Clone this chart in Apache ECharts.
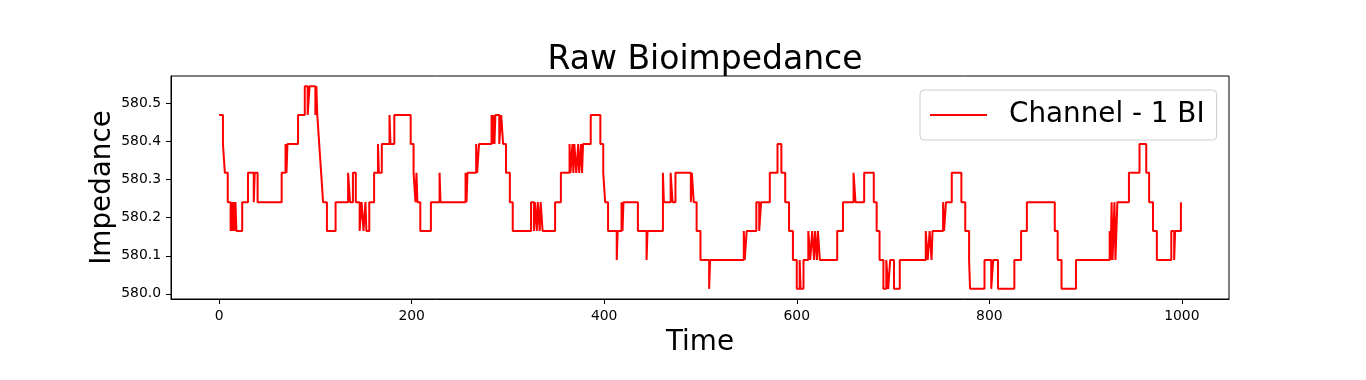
<!DOCTYPE html>
<html><head><meta charset="utf-8">
<script src="https://cdn.jsdelivr.net/npm/echarts@6/dist/echarts.min.js"></script>
<style>html,body{margin:0;padding:0;background:#fff}#c{width:1366px;height:380px}</style>
</head><body><div id="c"></div>
<script>
const chartTitle = 'Raw Bioimpedance';
const seriesName = 'Channel - 1 BI';
const xAxisName = 'Time';
const yAxisName = 'Impedance';
const xTicks = [0, 200, 400, 600, 800, 1000];
const yTicks = [580.0, 580.1, 580.2, 580.3, 580.4, 580.5];

// Change points of the (quantised) signal: value holds from times[i] until times[i+1]
const times = [
  0,4,6,9,12,13,14,15,16,17,18,24,30,36,37,40,65,69,70,71,
  82,89,92,94,100,101,102,104,106,108,112,121,134,136,139,142,146,148,150,152,
  153,156,161,165,166,169,177,178,182,199,202,204,205,206,209,220,229,230,256,257,
  258,267,268,270,283,284,285,286,287,291,293,295,298,302,305,324,327,328,330,331,
  333,334,336,349,355,364,365,367,368,369,371,373,374,376,377,378,386,396,399,401,
  404,413,414,418,419,420,435,444,445,461,462,469,471,474,490,491,493,496,500,509,
  510,545,546,548,558,561,563,572,580,584,588,592,596,600,603,604,607,612,614,616,
  618,619,621,622,624,642,648,659,661,670,680,683,686,690,693,695,697,701,707,734,
  736,738,740,741,752,753,755,761,771,775,779,780,795,802,804,809,826,833,839,868,
  871,875,890,925,926,927,928,930,931,933,945,956,963,966,970,974,989,992,993,999
];
const impedance = [
  580.470,580.394,580.318,580.241,580.165,580.241,580.165,580.241,580.165,580.241,580.165,580.241,580.318,580.241,580.318,580.241,580.318,580.394,580.318,580.394,
  580.470,580.546,580.470,580.546,580.470,580.546,580.470,580.394,580.318,580.241,580.165,580.241,580.318,580.241,580.318,580.241,580.165,580.241,580.165,580.241,
  580.165,580.241,580.318,580.394,580.318,580.394,580.470,580.394,580.470,580.394,580.318,580.241,580.318,580.241,580.165,580.241,580.318,580.241,580.318,580.241,
  580.318,580.394,580.318,580.394,580.470,580.394,580.470,580.394,580.470,580.394,580.470,580.394,580.318,580.241,580.165,580.241,580.165,580.241,580.165,580.241,
  580.165,580.241,580.165,580.241,580.318,580.394,580.318,580.394,580.318,580.394,580.318,580.394,580.318,580.394,580.318,580.394,580.470,580.394,580.318,580.241,
  580.165,580.089,580.165,580.241,580.165,580.241,580.165,580.089,580.165,580.318,580.241,580.318,580.241,580.318,580.241,580.318,580.241,580.165,580.089,580.013,
  580.089,580.165,580.089,580.165,580.241,580.165,580.241,580.318,580.394,580.318,580.241,580.165,580.089,580.013,580.089,580.013,580.089,580.165,580.089,580.165,
  580.089,580.165,580.089,580.165,580.089,580.165,580.241,580.318,580.241,580.318,580.241,580.165,580.089,580.013,580.089,580.013,580.089,580.013,580.089,580.165,
  580.089,580.165,580.089,580.165,580.241,580.165,580.241,580.318,580.241,580.165,580.089,580.013,580.089,580.013,580.089,580.013,580.089,580.165,580.241,580.165,
  580.089,580.013,580.089,580.165,580.089,580.241,580.089,580.241,580.089,580.241,580.318,580.394,580.318,580.241,580.165,580.089,580.165,580.089,580.165,580.241
];

const FONT = 'DejaVu Sans';
const chart = echarts.init(document.getElementById('c'), null, {renderer: 'canvas'});
const seriesData = times.map((t, i) => [t, impedance[i]]);

chart.setOption({
  animation: false,
  backgroundColor: '#ffffff',
  title: {
    text: chartTitle, left: 700, top: 39, textAlign: 'center',
    textStyle: {fontFamily: FONT, fontSize: 33, fontWeight: 'normal', color: '#000'}
  },
  legend: {
    left: 920, top: 90, orient: 'horizontal',
    padding: [11, 12, 11, 10],
    borderColor: '#cccccc', borderWidth: 1, borderRadius: 4,
    backgroundColor: 'rgba(255,255,255,0.8)',
    itemWidth: 57, itemHeight: 2,
    data: [{name: seriesName, icon: 'rect'}],
    textStyle: {fontFamily: FONT, fontSize: 27.8, color: '#000', padding: [0, 0, 0, 17]}
  },
  grid: {
    left: 171, right: 137, top: 76, bottom: 81,
    show: true, borderColor: '#000', borderWidth: 1, backgroundColor: 'transparent'
  },
  xAxis: {
    type: 'value', min: -49.95, max: 1048.95,
    name: xAxisName, nameLocation: 'middle', nameGap: 30, nameMoveOverlap: false,
    nameTextStyle: {fontFamily: FONT, fontSize: 27.8, color: '#000'},
    axisLine: {show: true, onZero: false, lineStyle: {color: '#000', width: 1}},
    axisTick: {show: true, length: 5, lineStyle: {color: '#000'}, customValues: xTicks},
    axisLabel: {customValues: xTicks, fontFamily: FONT, fontSize: 13.9, color: '#000', margin: 10,
      formatter: v => String(Math.round(v))},
    splitLine: {show: false}
  },
  yAxis: {
    type: 'value', min: 579.98635, max: 580.57265,
    name: yAxisName, nameLocation: 'middle', nameGap: 54, nameRotate: 90, nameMoveOverlap: false,
    nameTextStyle: {fontFamily: FONT, fontSize: 27.8, color: '#000'},
    axisLine: {show: true, onZero: false, lineStyle: {color: '#000', width: 1}},
    axisTick: {show: true, length: 5, lineStyle: {color: '#000'}, customValues: yTicks},
    axisLabel: {customValues: yTicks, fontFamily: FONT, fontSize: 13.9, color: '#000', margin: 10,
      formatter: v => Number(v).toFixed(1)},
    splitLine: {show: false}
  },
  series: [{
    name: seriesName, type: 'line', step: 'end', data: seriesData,
    showSymbol: false, symbol: 'none',
    lineStyle: {color: '#ff0000', width: 2},
    itemStyle: {color: '#ff0000'}
  }]
});
</script>
</body></html>
